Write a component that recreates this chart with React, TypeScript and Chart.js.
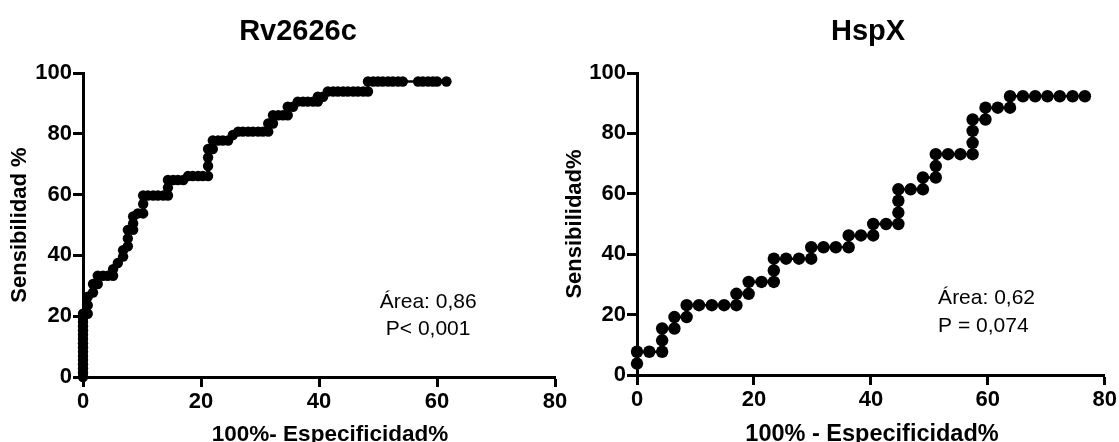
import { useEffect, useRef } from "react";
import { Chart, registerables } from "chart.js";

Chart.register(...registerables);

// ROC curve for Rv2626c: 100% - specificity (x) and sensitivity (y)
const rvFpr = [
  0, 0, 0, 0, 0, 0, 0, 0, 0, 0, 0, 0, 0, 0, 0, 0,
  0.8, 0.8, 0.8, 1.7, 1.7, 2.5, 2.5, 3.4, 4.2, 5.1, 5.1, 5.9, 6.8, 6.8,
  7.6, 7.6, 7.6, 8.5, 8.5, 8.5, 9.3, 10.2, 10.2, 10.2,
  11.0, 11.9, 12.7, 13.6, 14.4, 14.4, 14.4, 15.3, 16.1, 17.0,
  17.8, 18.6, 19.5, 20.3, 21.2, 21.2, 21.2, 21.2, 22.0, 22.0,
  22.9, 23.7, 24.6, 25.4, 26.3, 27.1, 28.0, 28.8, 29.7, 30.5,
  31.4, 31.4, 32.2, 32.2, 33.1, 33.9, 34.7, 34.7, 35.6, 36.4,
  37.3, 38.1, 39.0, 39.8, 39.8, 40.7, 41.5, 42.4, 43.2, 44.1,
  44.9, 45.8, 46.6, 47.5, 48.3, 48.3, 49.2, 50.0, 50.8, 51.7,
  52.5, 53.4, 54.2, 56.8, 57.6, 58.5, 59.3, 60.0, 61.6,
];
const rvSens = [
  0, 1.4, 2.8, 4.2, 5.6, 6.9, 8.3, 9.7, 11.1, 12.5, 13.9, 15.3, 16.7, 18.1, 19.4, 20.8,
  20.8, 23.6, 26.4, 27.8, 30.6, 30.6, 33.3, 33.3, 33.3, 33.3, 35.5, 37.5, 39.6, 41.7,
  43.0, 45.6, 48.4, 48.4, 50.5, 52.8, 53.8, 53.8, 56.9, 59.7,
  59.7, 59.7, 59.7, 59.7, 59.7, 62.3, 64.8, 64.8, 64.8, 64.8,
  66.1, 66.1, 66.1, 66.1, 66.1, 69.4, 72.2, 75.0, 75.0, 77.8,
  77.8, 77.8, 77.8, 79.6, 80.7, 80.7, 80.7, 80.7, 80.7, 80.7,
  80.7, 83.4, 83.4, 86.1, 86.1, 86.1, 86.1, 88.9, 88.9, 90.6,
  90.6, 90.6, 90.6, 90.6, 92.2, 92.2, 93.9, 93.9, 93.9, 93.9,
  93.9, 93.9, 93.9, 93.9, 93.9, 97.2, 97.2, 97.2, 97.2, 97.2,
  97.2, 97.2, 97.2, 97.2, 97.2, 97.2, 97.2, 97.2, 97.2,
];

// ROC curve for HspX
const hspFpr = [
  0, 0, 2.1, 4.3, 4.3, 4.3, 6.4, 6.4, 8.5, 8.5,
  10.6, 12.8, 14.9, 17.0, 17.0, 19.1, 19.1, 21.3, 23.4, 23.4,
  23.4, 25.5, 27.7, 29.8, 29.8, 31.9, 34.0, 36.2, 36.2, 38.3,
  40.4, 40.4, 42.6, 44.7, 44.7, 44.7, 44.7, 46.8, 48.9, 48.9,
  51.1, 51.1, 51.1, 53.2, 55.3, 57.4, 57.4, 57.4, 57.4, 59.6,
  59.6, 61.7, 63.8, 63.8, 66.0, 68.1, 70.2, 72.3, 74.5, 76.6,
];
const hspSens = [
  3.8, 7.7, 7.7, 7.7, 11.5, 15.4, 15.4, 19.2, 19.2, 23.1,
  23.1, 23.1, 23.1, 23.1, 26.9, 26.9, 30.8, 30.8, 30.8, 34.6,
  38.5, 38.5, 38.5, 38.5, 42.3, 42.3, 42.3, 42.3, 46.2, 46.2,
  46.2, 50.0, 50.0, 50.0, 53.8, 57.7, 61.5, 61.5, 61.5, 65.4,
  65.4, 69.2, 73.1, 73.1, 73.1, 73.1, 76.9, 80.8, 84.6, 84.6,
  88.5, 88.5, 88.5, 92.3, 92.3, 92.3, 92.3, 92.3, 92.3, 92.3,
];

const xTicks = [0, 20, 40, 60, 80];
const yTicks = [0, 20, 40, 60, 80, 100];

const rvTitle = "Rv2626c";
const hspTitle = "HspX";
const rvXLabel = "100%- Especificidad%";
const hspXLabel = "100% - Especificidad%";
const rvYLabel = "Sensibilidad %";
const hspYLabel = "Sensibilidad%";
const rvNotes = ["Área: 0,86", "P< 0,001"];
const hspNotes = ["Área: 0,62", "P = 0,074"];

const FONT = '"Liberation Sans", Arial, Helvetica, sans-serif';

// Draws the panel title, axis titles and the area / p-value note.
const panelText = {
  id: "panelText",
  afterDraw(chart: any, _args: any, o: any) {
    const { ctx, chartArea } = chart;
    const xs = chart.scales.x;
    const ys = chart.scales.y;
    ctx.save();
    ctx.fillStyle = "#000";
    ctx.textBaseline = "alphabetic";

    ctx.font = `bold ${o.titleSize}px ${FONT}`;
    ctx.textAlign = "center";
    ctx.fillText(o.title, o.titleX, o.titleY);

    ctx.font = `bold ${o.xAxisSize}px ${FONT}`;
    ctx.fillText(o.xLabel, o.xLabelX, o.xLabelY);

    ctx.save();
    ctx.font = `bold ${o.yAxisSize}px ${FONT}`;
    ctx.translate(o.yLabelX, (chartArea.top + chartArea.bottom) / 2);
    ctx.rotate(-Math.PI / 2);
    ctx.textBaseline = "middle";
    ctx.fillText(o.yLabel, 0, 0);
    ctx.restore();

    ctx.font = `${o.noteSize}px ${FONT}`;
    ctx.textAlign = o.noteAlign;
    const nx = xs.getPixelForValue(o.noteAt[0]);
    const ny = ys.getPixelForValue(o.noteAt[1]);
    o.notes.forEach((t: string, i: number) => ctx.fillText(t, nx, ny + i * o.noteGap));
    ctx.restore();
  },
};

function axis(min: number, max: number, values: number[], fit: (s: any) => void, pad: number) {
  return {
    type: "linear" as const,
    min,
    max,
    afterBuildTicks: (s: any) => {
      s.ticks = values.map((v) => ({ value: v }));
    },
    afterFit: fit,
    border: { display: true, color: "#000", width: 3 },
    grid: {
      display: true,
      drawOnChartArea: false,
      drawTicks: true,
      tickLength: 10,
      tickWidth: 3,
      tickColor: "#000",
    },
    ticks: {
      color: "#000",
      padding: pad,
      maxRotation: 0,
      autoSkip: false,
      font: { family: FONT, size: 22, weight: "bold" as const },
    },
    title: { display: false },
  };
}

type PanelProps = {
  fpr: number[];
  sens: number[];
  radius: number;
  yAxisWidth: number;
  xAxisHeight: number;
  padRight: number;
  text: any;
};

function RocPanel({ fpr, sens, radius, yAxisWidth, xAxisHeight, padRight, text }: PanelProps) {
  const ref = useRef<HTMLCanvasElement>(null);
  useEffect(() => {
    if (!ref.current) return;
    const points = fpr.map((x, i) => ({ x, y: sens[i] }));
    const chart = new Chart(ref.current, {
      type: "scatter",
      data: {
        datasets: [
          {
            data: points,
            showLine: true,
            borderColor: "#000",
            borderWidth: 2.5,
            backgroundColor: "#000",
            pointBackgroundColor: "#000",
            pointBorderWidth: 0,
            pointRadius: radius,
            pointHoverRadius: radius,
            clip: false as any,
          },
        ],
      },
      options: {
        animation: false,
        responsive: false,
        maintainAspectRatio: false,
        layout: { padding: { left: 0, top: 73, right: padRight, bottom: 0 } },
        plugins: {
          legend: { display: false },
          tooltip: { enabled: false },
          title: { display: false },
          panelText: text,
        } as any,
        scales: {
          x: axis(0, 80, xTicks, (s: any) => { s.height = xAxisHeight; }, 2),
          y: axis(0, 100, yTicks, (s: any) => { s.width = yAxisWidth; }, 1),
        },
      },
      plugins: [panelText],
    });
    return () => chart.destroy();
  }, []);
  return <canvas ref={ref} width={text.w} height={442} style={{ display: "block", width: text.w, height: 442 }} />;
}

export default function App() {
  return (
    <div style={{ position: "fixed", left: 0, top: 0, width: 1119, height: 442, background: "#fff", overflow: "hidden" }}>
      <div style={{ position: "absolute", left: 0, top: 0 }}>
        <RocPanel
          fpr={rvFpr}
          sens={rvSens}
          radius={5.2}
          yAxisWidth={83}
          xAxisHeight={65}
          padRight={45}
          text={{
            w: 600,
            title: rvTitle, titleX: 298, titleY: 40, titleSize: 29,
            xLabel: rvXLabel, xLabelX: 330, xLabelY: 441, xAxisSize: 22.5,
            yLabel: rvYLabel, yLabelX: 20, yAxisSize: 22,
            notes: rvNotes, noteAt: [58.5, 22.7], noteAlign: "center", noteGap: 27, noteSize: 21,
          }}
        />
      </div>
      <div style={{ position: "absolute", left: 560, top: 0 }}>
        <RocPanel
          fpr={hspFpr}
          sens={hspSens}
          radius={6.2}
          yAxisWidth={77}
          xAxisHeight={67}
          padRight={13}
          text={{
            w: 559,
            title: hspTitle, titleX: 308, titleY: 40, titleSize: 29,
            xLabel: hspXLabel, xLabelX: 312, xLabelY: 441, xAxisSize: 23.5,
            yLabel: hspYLabel, yLabelX: 15, yAxisSize: 22,
            notes: hspNotes, noteAt: [51.5, 23.5], noteAlign: "left", noteGap: 28, noteSize: 21,
          }}
        />
      </div>
    </div>
  );
}
